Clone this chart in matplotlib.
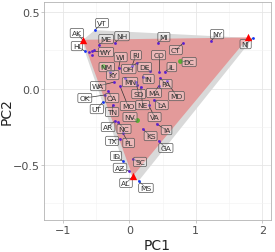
import numpy as np
import matplotlib
matplotlib.use("Agg")
import matplotlib.pyplot as plt
from matplotlib.patches import Polygon

plt.rcParams['font.family'] = ['DejaVu Sans']

# ── data ──────────────────────────────────────────────
states = ["AK", "HI", "VT", "ME", "NH", "MI", "NY", "NJ", "WY", "MT", "ND", "OR",
          "RI", "CO", "CT", "WI", "NM", "OH", "DE", "DC", "IL", "KY", "MN", "IN",
          "PA", "WA", "SD", "MA", "MD", "OK", "CA", "MO", "NE", "LA", "UT", "TN",
          "NV", "VA", "AR", "NC", "IA", "KS", "TX", "FL", "GA", "ID", "SC", "AZ",
          "AL", "MS", "WV"]
pc1 = [-0.70, -0.67, -0.52, -0.46, -0.22, 0.43, 1.23, 1.86, -0.56, -0.61, -0.53, -0.56,
       0.04, 0.44, 0.81, -0.16, -0.40, 0.11, 0.31, 0.76, 0.53, -0.29, -0.07, 0.20,
       0.46, -0.23, 0.10, 0.44, 0.56, -0.37, -0.32, -0.14, 0.17, 0.37, -0.40, -0.25,
       0.11, 0.29, -0.22, -0.17, 0.41, 0.20, -0.14, -0.10, 0.44, -0.10, 0.05, -0.01,
       0.05, 0.14, 0.11]
pc2 = [0.316, 0.244, 0.381, 0.284, 0.297, 0.297, 0.310, 0.329, 0.244, 0.238, 0.251, 0.218,
       0.147, 0.108, 0.297, 0.134, 0.147, 0.166, 0.114, 0.179, 0.108, 0.108, 0.068, 0.075,
       0.068, 0.042, 0.042, 0.016, 0.049, -0.042, -0.016, 0.016, 0.010, -0.075, -0.088, -0.108,
       -0.205, -0.108, -0.212, -0.218, -0.231, -0.264, -0.329, -0.290, -0.342, -0.473, -0.460, -0.538,
       -0.577, -0.603, 0.023]
# group: 0 = inside archetype triangle, 1 = outside, 2 = highlighted
group = [1, 1, 1, 0, 0, 0, 0, 1, 0, 0, 0, 0,
         0, 0, 0, 0, 2, 0, 0, 2, 0, 0, 0, 0,
         0, 0, 0, 0, 0, 0, 0, 0, 0, 0, 1, 0,
         2, 0, 0, 0, 0, 0, 0, 0, 0, 1, 0, 0,
         0, 1, 0]
labelled = [s for s in states if s not in ("MT", "ND", "OR", "WV")]

arch_pc1 = [-0.70, 1.79, 0.05]
arch_pc2 = [0.318, 0.333, -0.573]

# ── label placement (repelled positions) ──────────────
label_pos = {
    "AK": (-0.79, 0.362), "HI": (-0.79, 0.277), "VT": (-0.41, 0.427), "ME": (-0.35, 0.323),
    "NH": (-0.11, 0.342), "MI": (0.52, 0.336), "NY": (1.32, 0.355), "NJ": (1.75, 0.290),
    "WY": (-0.35, 0.238), "RI": (0.10, 0.218), "CO": (0.44, 0.218), "CT": (0.70, 0.251),
    "WI": (-0.13, 0.205), "NM": (-0.34, 0.140), "OH": (-0.01, 0.127), "DE": (0.23, 0.140),
    "DC": (0.90, 0.173), "IL": (0.64, 0.140), "KY": (-0.25, 0.088), "MN": (0.01, 0.042),
    "IN": (0.29, 0.062), "PA": (0.55, 0.029), "WA": (-0.47, 0.016), "SD": (0.14, -0.036),
    "MA": (0.37, -0.029), "MD": (0.71, -0.049), "OK": (-0.67, -0.062), "CA": (-0.26, -0.062),
    "MO": (-0.02, -0.114), "NE": (0.20, -0.108), "LA": (0.49, -0.108), "UT": (-0.49, -0.134),
    "TN": (-0.26, -0.153), "NV": (0.01, -0.186), "VA": (0.38, -0.186), "AR": (-0.32, -0.251),
    "NC": (-0.08, -0.264), "IA": (0.56, -0.271), "KS": (0.32, -0.310), "TX": (-0.26, -0.342),
    "FL": (-0.01, -0.355), "GA": (0.55, -0.388), "ID": (-0.20, -0.440), "SC": (0.16, -0.479),
    "AZ": (-0.14, -0.518), "AL": (-0.05, -0.616), "MS": (0.25, -0.649),
}
group_colors = {0: "#5B1FD1", 1: "#1434F5", 2: "#58B030"}


def convex_hull(pts):
    pts = sorted(map(tuple, pts))
    def cross(o, a, b):
        return (a[0] - o[0]) * (b[1] - o[1]) - (a[1] - o[1]) * (b[0] - o[0])
    lower, upper = [], []
    for p in pts:
        while len(lower) >= 2 and cross(lower[-2], lower[-1], p) <= 0:
            lower.pop()
        lower.append(p)
    for p in reversed(pts):
        while len(upper) >= 2 and cross(upper[-2], upper[-1], p) <= 0:
            upper.pop()
        upper.append(p)
    return lower[:-1] + upper[:-1]


fig = plt.figure(figsize=(2.75, 2.53), dpi=100)
ax = fig.add_axes([0.161, 0.127, 0.824, 0.862])

# hull of all states
hull = convex_hull(np.column_stack([pc1, pc2]))
ax.add_patch(Polygon(hull, closed=True, facecolor="#D9D9D9", edgecolor="none", zorder=1))
# archetype triangle
ax.add_patch(Polygon(np.column_stack([arch_pc1, arch_pc2]), closed=True,
                     facecolor="#E39A9A", edgecolor="none", zorder=2))

# label segments + boxes
idx = {s: i for i, s in enumerate(states)}
for s in labelled:
    i = idx[s]
    lx, ly = label_pos[s]
    ax.plot([pc1[i], lx], [pc2[i], ly], color="#333333", lw=0.5, zorder=3)
    ax.text(lx, ly, s, fontsize=5.4, color="#333333", ha="center", va="center", zorder=5,
            bbox=dict(boxstyle="round,pad=0.22,rounding_size=0.2", fc=(1, 1, 1, 0.3),
                      ec="#555555", lw=0.5))

# points
for g, c in group_colors.items():
    xs = [pc1[i] for i in range(len(states)) if group[i] == g]
    ys = [pc2[i] for i in range(len(states)) if group[i] == g]
    ax.scatter(xs, ys, s=4 if g != 2 else 12, color=c, zorder=4, linewidths=0)

ax.scatter(arch_pc1, arch_pc2, marker="^", s=28, color="red", zorder=6, linewidths=0)

ax.set_xlim(-1.28, 2.13)
ax.set_ylim(-0.857, 0.566)
ax.set_xticks([-1, 0, 1, 2])
ax.set_yticks([-0.5, 0.0, 0.5])
ax.set_yticklabels(["\u22120.5", "0.0", "0.5"])
ax.set_xticklabels(["\u22121", "0", "1", "2"])
ax.set_xticks([-0.5, 0.5, 1.5], minor=True)
ax.set_yticks([-0.75, -0.25, 0.25], minor=True)
ax.grid(which="major", color="#E6E6E6", lw=0.6, zorder=0)
ax.grid(which="minor", color="#F2F2F2", lw=0.4, zorder=0)
ax.set_axisbelow(True)
ax.tick_params(which="major", length=2, width=0.5, color="#B3B3B3", labelsize=8,
               labelcolor="#4D4D4D", pad=1.5)
ax.tick_params(which="minor", length=0)
for sp in ax.spines.values():
    sp.set_color("#B3B3B3")
    sp.set_linewidth(0.6)
ax.set_xlabel("PC1", fontsize=10, color="#222222")
ax.set_ylabel("PC2", fontsize=10, color="#222222")
ax.xaxis.set_label_coords(0.5, -0.085)
ax.yaxis.set_label_coords(-0.135, 0.5)

fig.savefig("out.png", dpi=100)
